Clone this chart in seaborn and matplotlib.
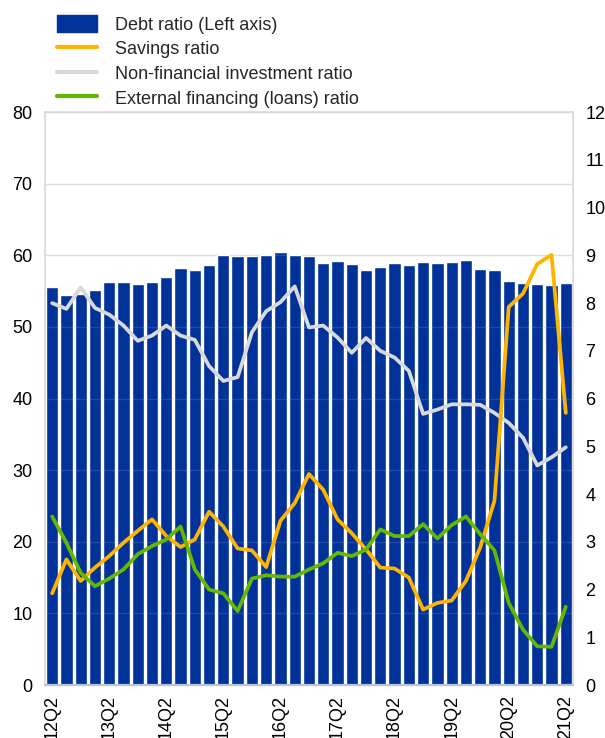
import numpy as np
import pandas as pd
import seaborn as sns
import matplotlib.pyplot as plt
from matplotlib.patches import Patch
from matplotlib.lines import Line2D

quarters = [f"{y}Q{q}" for y in range(12, 22) for q in range(1, 5)][1:38]

debt_ratio = [55.6, 54.5, 54.6, 55.1, 56.3, 56.3, 56.0, 56.3, 57.0, 58.3,
              57.9, 58.7, 60.0, 59.9, 59.9, 60.0, 60.5, 60.1, 59.9, 58.9,
              59.2, 58.8, 57.9, 58.4, 59.0, 58.7, 59.1, 59.0, 59.1, 59.3,
              58.1, 57.9, 56.4, 56.1, 56.0, 55.8, 56.1]
savings_ratio = [1.92, 2.63, 2.18, 2.46, 2.70, 2.98, 3.23, 3.47, 3.12, 2.89,
                 3.05, 3.63, 3.32, 2.86, 2.82, 2.47, 3.44, 3.81, 4.42, 4.09,
                 3.47, 3.18, 2.84, 2.46, 2.44, 2.25, 1.58, 1.72, 1.77, 2.18,
                 2.88, 3.86, 7.92, 8.20, 8.82, 9.01, 5.70]
investment_ratio = [8.00, 7.88, 8.33, 7.90, 7.76, 7.53, 7.21, 7.32, 7.53, 7.32,
                    7.23, 6.68, 6.37, 6.45, 7.39, 7.83, 8.02, 8.35, 7.49, 7.53,
                    7.28, 6.96, 7.27, 7.00, 6.86, 6.58, 5.68, 5.77, 5.88, 5.88,
                    5.87, 5.70, 5.49, 5.18, 4.60, 4.77, 4.98]
financing_ratio = [3.53, 2.98, 2.35, 2.07, 2.23, 2.42, 2.74, 2.91, 3.05, 3.32,
                   2.42, 2.00, 1.92, 1.55, 2.23, 2.30, 2.27, 2.27, 2.42, 2.55,
                   2.77, 2.70, 2.84, 3.26, 3.12, 3.12, 3.37, 3.07, 3.35, 3.53,
                   3.16, 2.82, 1.72, 1.16, 0.81, 0.80, 1.64]

blue = "#003299"
orange = "#FFB400"
grey = "#D9D9D9"
green = "#65B800"

df = pd.DataFrame({"quarter": quarters, "debt": debt_ratio,
                   "savings": savings_ratio, "investment": investment_ratio,
                   "financing": financing_ratio})
df["pos"] = np.arange(len(df))

sns.set_theme(style="white")
plt.rcParams["font.family"] = ["Liberation Sans", "DejaVu Sans"]

fig = plt.figure(figsize=(6.05, 7.38), dpi=100)
ax = fig.add_axes([0.0744, 0.0718, 0.8726, 0.7762])

sns.barplot(data=df, x="quarter", y="debt", color=blue, saturation=1,
            width=0.86, ax=ax, zorder=2)
ax.set_xlim(-0.5, len(df) - 0.5)
ax.set_ylim(0, 80)
ax.set_yticks(range(0, 81, 10))
ax.yaxis.grid(True, color="#d9d9d9", linewidth=1)
ax.set_axisbelow(True)
# faint gridlines showing through the bars
for t in ax.get_yticks()[1:]:
    ax.axhline(t, color="white", alpha=0.12, linewidth=1, zorder=2.5)

ax2 = ax.twinx()
for col, c in [("investment", grey), ("savings", orange), ("financing", green)]:
    sns.lineplot(data=df, x="pos", y=col, color=c, linewidth=2.7, ax=ax2,
                 legend=False)
ax2.set_ylim(0, 12)
ax2.set_yticks(range(0, 13))
ax2.set_xlim(-0.5, len(df) - 0.5)

ax.set_xticks(range(0, len(df), 4))
ax.set_xticklabels(quarters[::4], rotation=90)
for a in (ax, ax2):
    a.set_xlabel("")
    a.set_ylabel("")
    a.tick_params(length=0, labelsize=13, colors="#000000")
    for s in a.spines.values():
        s.set_visible(False)
ax.tick_params(axis="y", pad=9)
ax.tick_params(axis="x", pad=7)
ax2.tick_params(axis="y", pad=9)
for side in ("top", "left", "right"):
    ax.spines[side].set_visible(True)
    ax.spines[side].set_color("#d9d9d9")
    ax.spines[side].set_linewidth(1.2)
ax.spines["bottom"].set_visible(True)
ax.spines["bottom"].set_color("#b8c4dc")
ax.spines["bottom"].set_linewidth(1.6)

handles = [Patch(facecolor=blue, edgecolor=blue),
           Line2D([], [], color=orange, linewidth=3),
           Line2D([], [], color=grey, linewidth=3),
           Line2D([], [], color=green, linewidth=3)]
labels = ["Debt ratio (Left axis)", "Savings ratio",
          "Non-financial investment ratio", "External financing (loans) ratio"]
fig.legend(handles, labels, loc="upper left", bbox_to_anchor=(0.0947, 0.980),
           frameon=False, fontsize=13, handlelength=2.18, handleheight=1.1,
           handletextpad=1.0, labelspacing=0.33, borderaxespad=0, borderpad=0)

fig.savefig("out.png", dpi=100)
